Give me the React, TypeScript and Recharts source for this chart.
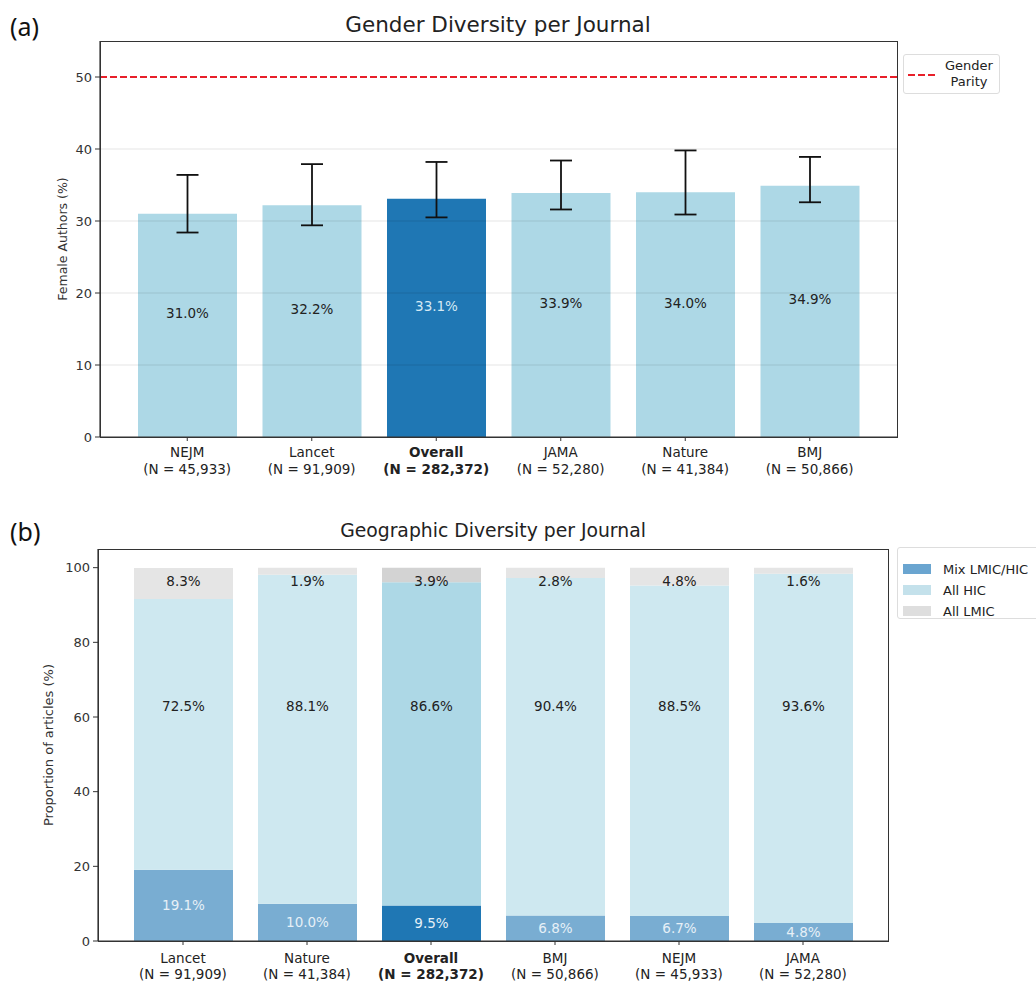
import React from "react";
import {
  BarChart,
  Bar,
  XAxis,
  YAxis,
  Cell,
  ErrorBar,
  LabelList,
  ReferenceLine,
} from "recharts";

if (typeof document !== "undefined") document.body.style.margin = "0";

// (a) gender diversity
const genderJournals = ["NEJM", "Lancet", "Overall", "JAMA", "Nature", "BMJ"];
const genderN = ["45,933", "91,909", "282,372", "52,280", "41,384", "50,866"];
const femalePct = [31.0, 32.2, 33.1, 33.9, 34.0, 34.9];
const ciLow = [28.4, 29.4, 30.5, 31.6, 30.9, 32.6];
const ciHigh = [36.4, 37.9, 38.2, 38.4, 39.8, 38.9];
const genderTicks = [0, 10, 20, 30, 40, 50];
const gridLines = [10, 20, 30, 40];
const parity = 50;

// (b) geographic diversity
const geoJournals = ["Lancet", "Nature", "Overall", "BMJ", "NEJM", "JAMA"];
const geoN = ["91,909", "41,384", "282,372", "50,866", "45,933", "52,280"];
const mixPct = [19.1, 10.0, 9.5, 6.8, 6.7, 4.8];
const hicPct = [72.5, 88.1, 86.6, 90.4, 88.5, 93.6];
const lmicPct = [8.3, 1.9, 3.9, 2.8, 4.8, 1.6];
const geoTicks = [0, 20, 40, 60, 80, 100];
const hicLabelLevel = 63; // HIC labels sit on one row

const FONT = "'DejaVu Sans', sans-serif";

const genderData = genderJournals.map((name, i) => ({
  name,
  value: femalePct[i],
  err: [femalePct[i] - ciLow[i], ciHigh[i] - femalePct[i]],
}));

const geoData = geoJournals.map((name, i) => ({
  name,
  mix: mixPct[i],
  hic: hicPct[i],
  lmic: lmicPct[i],
}));

const makeTick = (ns: string[], names: string[], dy1: number, dy2: number) =>
  (props: any) => {
    const { x, y, payload } = props;
    const i = names.indexOf(payload.value);
    const bold = payload.value === "Overall";
    return (
      <text
        x={x}
        y={y}
        textAnchor="middle"
        fontFamily={FONT}
        fontSize={13.5}
        fill="#222"
        fontWeight={bold ? "bold" : "normal"}
      >
        <tspan x={x} dy={dy1}>{payload.value}</tspan>
        <tspan x={x} dy={dy2}>(N = {ns[i]})</tspan>
      </text>
    );
  };

const pct = (v: number) => `${v.toFixed(1)}%`;

const valueText = (x: number, y: number, value: number, fill: string) => (
  <text
    x={x}
    y={y}
    textAnchor="middle"
    dominantBaseline="central"
    fontFamily={FONT}
    fontSize={13.5}
    fill={fill}
  >
    {pct(value)}
  </text>
);

const GenderLabel = (props: any) => {
  const { x, y, width, height, value, index } = props;
  const overall = genderJournals[index] === "Overall";
  return valueText(x + width / 2, y + height / 2 - 12, value, overall ? "#d4e9f4" : "#222");
};

const MixLabel = (props: any) => {
  const { x, y, width, height, value } = props;
  return valueText(x + width / 2, y + height / 2, value, "#e6f0f7");
};

const HicLabel = (props: any) => {
  const { x, y, width, height, value, index } = props;
  // px per unit from the segment itself, so the row stays at one level
  const ppu = height / value;
  const base = y + height + mixPct[index] * ppu;
  return valueText(x + width / 2, base - hicLabelLevel * ppu, value, "#222");
};

const LmicLabel = (props: any) => {
  const { x, y, width, value } = props;
  return valueText(x + width / 2, y + 13, value, "#222");
};

const tickStyle = { fontFamily: FONT, fontSize: 13, fill: "#333" };
const axisLine = { stroke: "#333", strokeWidth: 1.2 };

const panelLabel: React.CSSProperties = {
  position: "absolute",
  fontFamily: "'Noto Sans', sans-serif",
  fontSize: 25,
  color: "#111",
  lineHeight: "30px",
};

const titleStyle: React.CSSProperties = {
  position: "absolute",
  fontFamily: FONT,
  color: "#222",
  transform: "translateX(-50%)",
  whiteSpace: "nowrap",
  lineHeight: "24px",
};

const frame = (left: number, top: number, width: number, height: number): React.CSSProperties => ({
  position: "absolute",
  left,
  top,
  width,
  height,
  border: "1.2px solid #333",
  boxSizing: "border-box",
  pointerEvents: "none",
});

export default function App() {
  return (
    <div style={{ position: "relative", width: 1036, height: 984, overflow: "hidden", background: "#fff" }}>
      {/* (a) */}
      <div style={{ ...panelLabel, left: 10, top: 11 }}>(a)</div>
      <div style={{ ...titleStyle, fontSize: 21.5, left: 498, top: 13 }}>Gender Diversity per Journal</div>
      <div style={{ position: "absolute", left: 0, top: 0 }}>
        <BarChart
          width={1030}
          height={490}
          data={genderData}
          margin={{ top: 41, right: 133, left: 40, bottom: 0 }}
        >
          <XAxis
            dataKey="name"
            height={53}
            padding={{ left: 25, right: 25 }}
            axisLine={axisLine}
            tickLine={{ stroke: "#333" }}
            tickSize={4}
            tickMargin={2}
            interval={0}
            tick={makeTick(genderN, genderJournals, 14, 16.5)}
          />
          <YAxis
            domain={[0, 55]}
            ticks={genderTicks}
            width={60}
            axisLine={axisLine}
            tickLine={{ stroke: "#333" }}
            tickSize={5}
            tickMargin={3}
            tick={tickStyle}
            label={{
              content: () => (
                <text
                  x={62}
                  y={239}
                  transform="rotate(-90 62 239)"
                  textAnchor="middle"
                  dominantBaseline="central"
                  fontFamily={FONT}
                  fontSize={12.5}
                  fill="#333"
                >
                  Female Authors (%)
                </text>
              ),
            }}
          />
          <Bar dataKey="value" barSize={99} isAnimationActive={false}>
            {genderData.map((d) => (
              <Cell key={d.name} fill={d.name === "Overall" ? "#1f77b4" : "#add8e6"} />
            ))}
            <ErrorBar dataKey="err" width={11} stroke="#111" strokeWidth={1.8} direction="y" />
            <LabelList dataKey="value" content={GenderLabel} />
          </Bar>
          {gridLines.map((g) => (
            <ReferenceLine key={g} y={g} stroke="#000" strokeOpacity={0.1} strokeWidth={1} />
          ))}
          <ReferenceLine y={parity} stroke="#e8202a" strokeWidth={2} strokeDasharray="7 3" />
        </BarChart>
      </div>
      <div style={frame(100, 41, 797.6, 396.6)} />
      <div
        style={{
          position: "absolute",
          left: 903,
          top: 54,
          width: 97,
          height: 40,
          border: "1px solid #ddd",
          borderRadius: 3,
          boxSizing: "border-box",
          fontFamily: FONT,
          fontSize: 13,
          color: "#222",
        }}
      >
        <svg width={30} height={40} style={{ position: "absolute", left: 3, top: 0 }}>
          <line x1={1} y1={20} x2={29} y2={20} stroke="#e8202a" strokeWidth={2} strokeDasharray="7 3" />
        </svg>
        <div style={{ position: "absolute", left: 36, top: 3, width: 58, textAlign: "center", lineHeight: "16px" }}>
          Gender
          <br />
          Parity
        </div>
      </div>

      {/* (b) */}
      <div style={{ ...panelLabel, left: 10, top: 516 }}>(b)</div>
      <div style={{ ...titleStyle, fontSize: 18.8, left: 493, top: 519 }}>Geographic Diversity per Journal</div>
      <div style={{ position: "absolute", left: 0, top: 490 }}>
        <BarChart
          width={1030}
          height={494}
          data={geoData}
          margin={{ top: 59, right: 142, left: 40, bottom: 0 }}
        >
          <XAxis
            dataKey="name"
            height={43}
            padding={{ left: 23, right: 23 }}
            axisLine={axisLine}
            tickLine={{ stroke: "#333" }}
            tickSize={4}
            tickMargin={2}
            interval={0}
            tick={makeTick(geoN, geoJournals, 16, 15.5)}
          />
          <YAxis
            domain={[0, 105]}
            ticks={geoTicks}
            width={58}
            axisLine={axisLine}
            tickLine={{ stroke: "#333" }}
            tickSize={5}
            tickMargin={3}
            tick={tickStyle}
            label={{
              content: () => (
                <text
                  x={48}
                  y={255}
                  transform="rotate(-90 48 255)"
                  textAnchor="middle"
                  dominantBaseline="central"
                  fontFamily={FONT}
                  fontSize={13}
                  fill="#333"
                >
                  Proportion of articles (%)
                </text>
              ),
            }}
          />
          <Bar dataKey="mix" stackId="geo" barSize={99} isAnimationActive={false}>
            {geoData.map((d) => (
              <Cell key={d.name} fill={d.name === "Overall" ? "#1f77b4" : "#79add2"} />
            ))}
            <LabelList dataKey="mix" content={MixLabel} />
          </Bar>
          <Bar dataKey="hic" stackId="geo" barSize={99} isAnimationActive={false}>
            {geoData.map((d) => (
              <Cell key={d.name} fill={d.name === "Overall" ? "#add8e6" : "#cee8f0"} />
            ))}
            <LabelList dataKey="hic" content={HicLabel} />
          </Bar>
          <Bar dataKey="lmic" stackId="geo" barSize={99} isAnimationActive={false}>
            {geoData.map((d) => (
              <Cell key={d.name} fill={d.name === "Overall" ? "#d3d3d3" : "#e5e5e5"} />
            ))}
            <LabelList dataKey="lmic" content={LmicLabel} />
          </Bar>
        </BarChart>
      </div>
      <div style={frame(98, 549, 790.6, 392.6)} />
      <div
        style={{
          position: "absolute",
          left: 897,
          top: 547,
          width: 150,
          height: 72,
          border: "1px solid #ddd",
          borderRadius: 3,
          boxSizing: "border-box",
          fontFamily: FONT,
          fontSize: 13,
          color: "#222",
        }}
      >
        {[
          { label: "Mix LMIC/HIC", color: "#6aa5d0" },
          { label: "All HIC", color: "#c4e1eb" },
          { label: "All LMIC", color: "#dedede" },
        ].map((item, i) => (
          <div key={item.label} style={{ position: "absolute", left: 5, top: 14 + i * 21, height: 14, display: "flex", alignItems: "center" }}>
            <span style={{ display: "inline-block", width: 28, height: 10, background: item.color, marginRight: 12 }} />
            <span>{item.label}</span>
          </div>
        ))}
      </div>
    </div>
  );
}
